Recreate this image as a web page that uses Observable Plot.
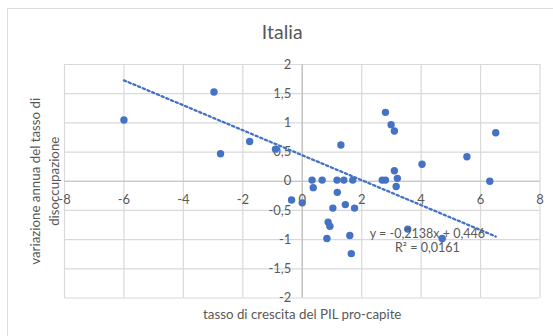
<!DOCTYPE html>
<html>
<head>
<meta charset="utf-8">
<script src="https://cdn.jsdelivr.net/npm/d3@7"></script>
<script src="https://cdn.jsdelivr.net/npm/@observablehq/plot@0.6"></script>
<style>
  html, body { margin: 0; padding: 0; background: #fff; }
  #wrap { position: relative; width: 553px; height: 336px; overflow: hidden; }
  #border { position: absolute; left: 7px; top: 8px; width: 600px; height: 400px; border: 1px solid #dcdcdc; box-sizing: border-box; }
  #chart { position: absolute; left: 0; top: 0; }
</style>
</head>
<body>
<div id="wrap"><div id="border"></div><div id="chart"></div></div>
<script>
// Data
const gdpGrowth = [-6, -2.97, -2.75, -1.77, -0.9, -0.36, 0.0,
  0.33, 0.37, 0.67, 1.17, 1.18, 1.3, 1.4, 1.7, 2.69, 2.8, 2.8, 2.99, 3.1, 3.1, 3.2, 3.16, 4.03, 5.54, 6.31, 6.51,
  1.03, 0.87, 0.93, 0.83, 1.45, 1.6, 1.65, 1.76, 3.55, 4.71];
const unempChange = [1.05, 1.53, 0.47, 0.68, 0.55, -0.32, -0.37,
  0.02, -0.11, 0.02, 0.02, -0.19, 0.62, 0.02, 0.02, 0.02, 0.02, 1.18, 0.97, 0.86, 0.18, 0.05, -0.09, 0.29, 0.42, 0.0, 0.83,
  -0.46, -0.70, -0.77, -0.98, -0.40, -0.93, -1.24, -0.46, -0.82, -0.98];
const xTicks = [-8, -6, -4, -2, 0, 2, 4, 6, 8];
const yTicks = [-2, -1.5, -1, -0.5, 0, 0.5, 1, 1.5, 2];
const trendSlope = -0.2138;
const trendIntercept = 0.446;
const equationLines = ["y = -0,2138x + 0,446", "R² = 0,0161"];
const title = "Italia";
const xTitle = "tasso di crescita del PIL pro-capite";
const yTitleLines = ["variazione annua del tasso di", "disoccupazione"];

const points = gdpGrowth.map((x, i) => ({x, y: unempChange[i]}));
const fmt = v => String(v).replace(".", ",");
const trendX = d3.extent(gdpGrowth);
const font = "Lato, 'Open Sans', sans-serif";
const grey = "#595959";

const chart = Plot.plot({
  width: 553,
  height: 336,
  marginLeft: 64,
  marginRight: 13.5,
  marginTop: 64,
  marginBottom: 38.5,
  style: {fontFamily: font, background: "transparent", overflow: "visible"},
  x: {domain: [-8, 8], axis: null},
  y: {domain: [-2, 2], axis: null},
  marks: [
    Plot.ruleX(xTicks, {stroke: "#d9d9d9", strokeWidth: 1.2}),
    Plot.ruleY(yTicks, {stroke: "#d9d9d9", strokeWidth: 1.2}),
    Plot.ruleX([0], {stroke: "#bfbfbf", strokeWidth: 1.2}),
    Plot.ruleY([0], {stroke: "#bfbfbf", strokeWidth: 1.2}),
    Plot.text(xTicks, {x: d => d, y: 0, text: fmt, dy: 18.5, lineAnchor: "middle", fill: grey, fontSize: 13}),
    Plot.text(yTicks, {x: 0, y: d => d, text: fmt, dx: -11, textAnchor: "end", lineAnchor: "middle", fill: grey, fontSize: 13}),
    Plot.line(trendX, {x: d => d, y: d => trendSlope * d + trendIntercept, stroke: "#4472C4", strokeWidth: 2.3, strokeDasharray: "2.3,2.8"}),
    Plot.dot(points, {x: "x", y: "y", r: 3.7, fill: "#4472C4"}),
    Plot.text([equationLines[0]], {x: 4.21, y: -0.9, text: d => d, lineAnchor: "middle", fill: grey, fontSize: 12.5}),
    Plot.text([equationLines[1]], {x: 4.21, y: -1.14, text: d => d, lineAnchor: "middle", fill: grey, fontSize: 12.5}),
    Plot.text([title], {frameAnchor: "top", dx: -20, dy: -31.5, text: d => d, textAnchor: "middle", lineAnchor: "middle", fill: grey, fontSize: 19.5}),
    Plot.text([xTitle], {frameAnchor: "bottom", dy: 16.5, text: d => d, textAnchor: "middle", lineAnchor: "middle", fill: grey, fontSize: 13.3}),
    Plot.text([yTitleLines[0]], {frameAnchor: "left", dx: -28.7, rotate: -90, text: d => d, textAnchor: "middle", lineAnchor: "middle", fill: grey, fontSize: 13.3}),
    Plot.text([yTitleLines[1]], {frameAnchor: "left", dx: -9.5, rotate: -90, text: d => d, textAnchor: "middle", lineAnchor: "middle", fill: grey, fontSize: 13.3})
  ]
});
document.getElementById("chart").appendChild(chart);
</script>
</body>
</html>
